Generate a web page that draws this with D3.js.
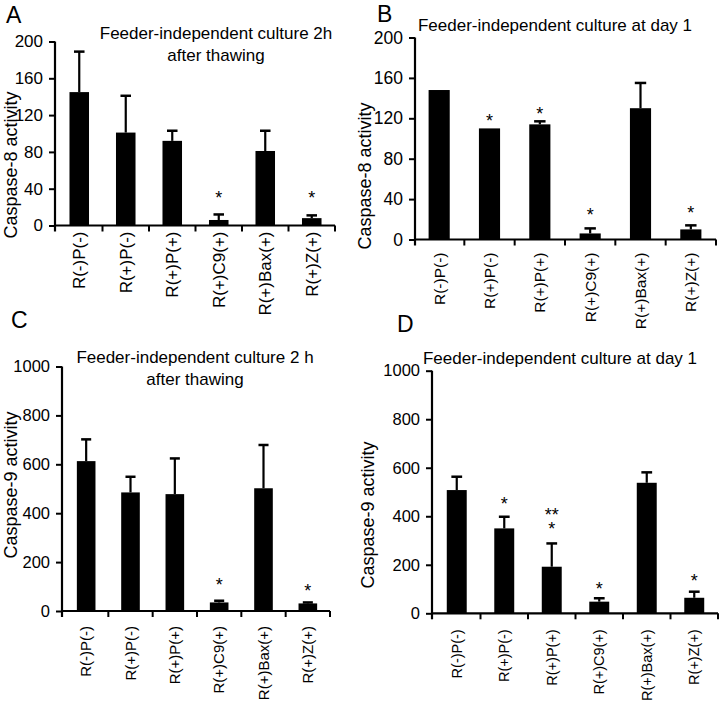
<!DOCTYPE html>
<html>
<head>
<meta charset="utf-8">
<script src="https://cdn.jsdelivr.net/npm/d3@7"></script>
<style>
  html, body { margin: 0; padding: 0; background: #fff; }
  svg { display: block; font-family: "Liberation Sans", Arial, Helvetica, sans-serif; }
</style>
</head>
<body>
<svg id="chart" width="720" height="710"></svg>
<script>
// ---------------- DATA ----------------
const categories = ["R(-)P(-)", "R(+)P(-)", "R(+)P(+)", "R(+)C9(+)", "R(+)Bax(+)", "R(+)Z(+)"];

const ticks8 = [0, 40, 80, 120, 160, 200];
const ticks9 = [0, 200, 400, 600, 800, 1000];

// Panel A: Caspase-8, 2 h after thawing
const casp8_2h_mean   = [145, 101, 92, 6, 81, 8];
const casp8_2h_errTop = [189, 141, 103, 12, 103, 11];
const casp8_2h_stars  = [{ cat: 3, text: "*", at: 34 }, { cat: 5, text: "*", at: 34 }];

// Panel B: Caspase-8, day 1
const casp8_d1_mean   = [148, 110, 114, 6, 130, 10];
const casp8_d1_errTop = [148, 110, 117, 11, 155, 14];
const casp8_d1_stars  = [{ cat: 1, text: "*", at: 121 }, { cat: 2, text: "*", at: 128 },
                         { cat: 3, text: "*", at: 28 }, { cat: 5, text: "*", at: 30 }];

// Panel C: Caspase-9, 2 h after thawing
const casp9_2h_mean   = [613, 485, 478, 35, 502, 31];
const casp9_2h_errTop = [702, 549, 624, 42, 679, 35];
const casp9_2h_stars  = [{ cat: 3, text: "*", at: 124 }, { cat: 5, text: "*", at: 99 }];

// Panel D: Caspase-9, day 1
const casp9_d1_mean   = [508, 350, 192, 48, 538, 64];
const casp9_d1_errTop = [563, 398, 288, 62, 581, 89];
const casp9_d1_stars  = [{ cat: 1, text: "*", at: 467 }, { cat: 2, text: "**", at: 421 },
                         { cat: 2, text: "*", at: 363 }, { cat: 3, text: "*", at: 117 },
                         { cat: 5, text: "*", at: 151 }];

const titleA = ["Feeder-independent culture 2h", "after thawing"];
const titleB = ["Feeder-independent culture at day 1"];
const titleC = ["Feeder-independent culture 2 h", "after thawing"];
const titleD = ["Feeder-independent culture at day 1"];
const yLabel8 = "Caspase-8 activity";
const yLabel9 = "Caspase-9 activity";

// ---------------- LAYOUT ----------------
const panels = [
  { letter: "A", letterPos: [6, 23], mean: casp8_2h_mean, errTop: casp8_2h_errTop, stars: casp8_2h_stars,
    ticks: ticks8, domain: [0, 200], yRange: [225.5, 41.5], axisX: 55, xRange: [56, 335],
    tickFont: 17, catFont: 17, catGap: 6,
    title: titleA, titleX: 216, titleY: 39, ylabel: yLabel8, ylabelPos: [17, 165] },
  { letter: "B", letterPos: [377, 22], mean: casp8_d1_mean, errTop: casp8_d1_errTop, stars: casp8_d1_stars,
    ticks: ticks8, domain: [0, 200], yRange: [239.5, 37.5], axisX: 415, xRange: [414, 716],
    tickFont: 17.5, catFont: 15.5, catGap: 13,
    title: titleB, titleX: 555, titleY: 31, ylabel: yLabel8, ylabelPos: [371, 176] },
  { letter: "C", letterPos: [11, 328], mean: casp9_2h_mean, errTop: casp9_2h_errTop, stars: casp9_2h_stars,
    ticks: ticks9, domain: [0, 1000], yRange: [611, 366.5], axisX: 62, xRange: [64, 330],
    tickFont: 16.5, catFont: 15, catGap: 15,
    title: titleC, titleX: 195, titleY: 363, ylabel: yLabel9, ylabelPos: [16.5, 485] },
  { letter: "D", letterPos: [397, 332], mean: casp9_d1_mean, errTop: casp9_d1_errTop, stars: casp9_d1_stars,
    ticks: ticks9, domain: [0, 1000], yRange: [613.3, 370.7], axisX: 432, xRange: [433, 718],
    tickFont: 16.5, catFont: 14.5, catGap: 16,
    title: titleD, titleX: 560, titleY: 364, ylabel: yLabel9, ylabelPos: [374, 515] }
];

const svg = d3.select("#chart");

panels.forEach(p => {
  const g = svg.append("g");
  const y = d3.scaleLinear().domain(p.domain).range(p.yRange);
  const x = d3.scaleBand().domain(categories).range(p.xRange).paddingInner(0).paddingOuter(0);
  const bw = x.bandwidth() * 0.42;
  const y0 = y(0);

  // bars
  g.selectAll("rect.bar").data(categories).join("rect")
    .attr("class", "bar")
    .attr("x", d => x(d) + x.bandwidth() / 2 - bw / 2)
    .attr("width", bw)
    .attr("y", (d, i) => y(p.mean[i]))
    .attr("height", (d, i) => y0 - y(p.mean[i]))
    .attr("fill", "#000");

  // error bars (upper only)
  categories.forEach((c, i) => {
    if (p.errTop[i] <= p.mean[i]) return;
    const cx = x(c) + x.bandwidth() / 2;
    g.append("line").attr("x1", cx).attr("x2", cx)
      .attr("y1", y(p.mean[i])).attr("y2", y(p.errTop[i]))
      .attr("stroke", "#000").attr("stroke-width", 2.2);
    g.append("line").attr("x1", cx - bw * 0.27).attr("x2", cx + bw * 0.27)
      .attr("y1", y(p.errTop[i])).attr("y2", y(p.errTop[i]))
      .attr("stroke", "#000").attr("stroke-width", 2.5);
  });

  // y axis
  const yAxis = d3.axisLeft(y).tickValues(p.ticks).tickFormat(d3.format("d"))
    .tickSize(6).tickPadding(6).tickSizeOuter(0);
  const ya = g.append("g").attr("transform", `translate(${p.axisX},0)`).call(yAxis);
  ya.select(".domain").attr("stroke", "#000").attr("stroke-width", 2.2)
    .attr("d", `M0,${y0 + 6}V${y(p.domain[1])}`);
  ya.selectAll(".tick line").attr("stroke", "#000").attr("stroke-width", 2);
  ya.selectAll(".tick text").attr("fill", "#000").style("font-size", p.tickFont + "px")
    .style("font-family", "\"Liberation Sans\", Arial, sans-serif");

  // x axis: line with ticks at category boundaries
  const boundaries = d3.range(categories.length + 1).map(i => p.xRange[0] + i * x.step());
  g.append("line").attr("x1", p.axisX - 1).attr("x2", p.xRange[1])
    .attr("y1", y0).attr("y2", y0).attr("stroke", "#000").attr("stroke-width", 2.2);
  g.selectAll("line.xtick").data(boundaries.slice(1)).join("line")
    .attr("class", "xtick")
    .attr("x1", d => d).attr("x2", d => d)
    .attr("y1", y0).attr("y2", y0 + 6)
    .attr("stroke", "#000").attr("stroke-width", 2);

  // category labels (rotated)
  g.selectAll("text.cat").data(categories).join("text")
    .attr("class", "cat")
    .attr("transform", d => `translate(${x(d) + x.bandwidth() / 2},${y0 + p.catGap}) rotate(-90)`)
    .attr("text-anchor", "end")
    .attr("dy", "0.35em")
    .style("font-size", p.catFont + "px")
    .text(d => d);

  // significance stars
  g.selectAll("text.star").data(p.stars).join("text")
    .attr("class", "star")
    .attr("x", d => x(categories[d.cat]) + x.bandwidth() / 2)
    .attr("y", d => y(d.at) + 10)
    .attr("text-anchor", "middle")
    .style("font-size", "18px")
    .text(d => d.text);

  // title
  g.selectAll("text.title").data(p.title).join("text")
    .attr("class", "title")
    .attr("x", p.titleX)
    .attr("y", (d, i) => p.titleY + i * 22)
    .attr("text-anchor", "middle")
    .style("font-size", "17px")
    .text(d => d);

  // y label
  g.append("text")
    .attr("transform", `translate(${p.ylabelPos[0]},${p.ylabelPos[1]}) rotate(-90)`)
    .attr("text-anchor", "middle")
    .style("font-size", "18px")
    .text(p.ylabel);

  // panel letter
  g.append("text")
    .attr("x", p.letterPos[0]).attr("y", p.letterPos[1])
    .style("font-size", "23px")
    .text(p.letter);
});
</script>
</body>
</html>
